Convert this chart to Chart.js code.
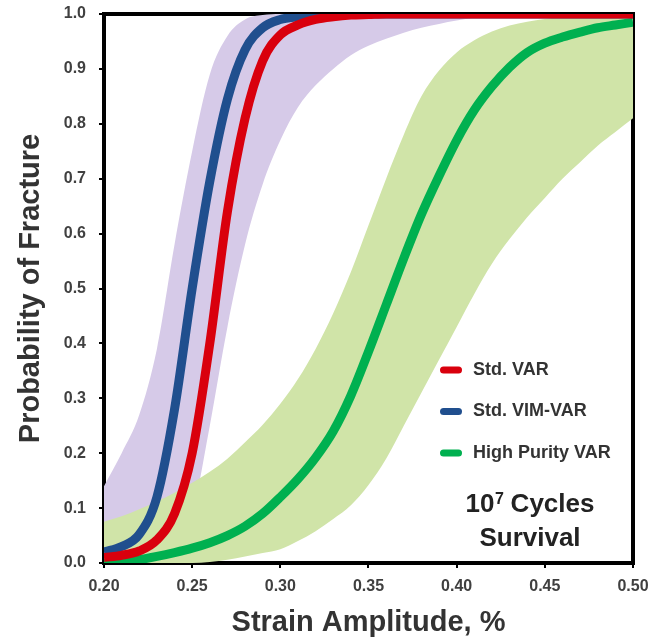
<!DOCTYPE html>
<html>
<head>
<meta charset="utf-8">
<title>Probability of Fracture</title>
<script src="https://cdn.jsdelivr.net/npm/chart.js@4.4.0/dist/chart.umd.min.js"></script>
<style>
  html, body { margin: 0; padding: 0; background: #fff; }
  #wrap { width: 650px; height: 638px; }
</style>
</head>
<body>
<div id="wrap"><canvas id="myChart" width="650" height="638"></canvas></div>
<script>
// Strain amplitude, % (shared x values for every curve)
var strain = [0.20, 0.21, 0.22, 0.23, 0.24, 0.25, 0.26, 0.27, 0.28, 0.29, 0.30,
              0.31, 0.32, 0.33, 0.34, 0.35, 0.36, 0.37, 0.38, 0.39, 0.40,
              0.41, 0.42, 0.43, 0.44, 0.45, 0.46, 0.47, 0.48, 0.49, 0.50];

// Probability of fracture
var stdVar     = [0.010, 0.014, 0.022, 0.042, 0.090, 0.200, 0.400, 0.640, 0.810, 0.915, 0.962,
                  0.980, 0.990, 0.995, 0.998, 0.999, 1.000, 1.000, 1.000, 1.000, 1.000,
                  1.000, 1.000, 1.000, 1.000, 1.000, 1.000, 1.000, 1.000, 1.000, 1.000];
var stdVimVar  = [0.020, 0.030, 0.052, 0.120, 0.280, 0.500, 0.695, 0.845, 0.935, 0.975, 0.990,
                  0.995, 0.998, 0.999, 1.000, 1.000, 1.000, 1.000, 1.000, 1.000, 1.000,
                  1.000, 1.000, 1.000, 1.000, 1.000, 1.000, 1.000, 1.000, 1.000, 1.000];
var highPurity = [0.000, 0.002, 0.006, 0.012, 0.019, 0.027, 0.037, 0.050, 0.067, 0.090, 0.120,
                  0.153, 0.192, 0.240, 0.305, 0.385, 0.470, 0.555, 0.635, 0.705, 0.770,
                  0.825, 0.868, 0.903, 0.930, 0.947, 0.958, 0.967, 0.975, 0.980, 0.985];

// confidence bands
var hpUpper  = [0.075, 0.085, 0.098, 0.112, 0.128, 0.146, 0.166, 0.190, 0.220, 0.252, 0.290,
                0.335, 0.390, 0.455, 0.530, 0.615, 0.700, 0.780, 0.850, 0.897, 0.930,
                0.952, 0.968, 0.979, 0.986, 0.991, 0.995, 0.998, 0.999, 1.000, 1.000];
var hpLower  = [0.000, 0.000, 0.000, 0.000, 0.000, 0.000, 0.002, 0.006, 0.012, 0.018, 0.025,
                0.040, 0.058, 0.080, 0.105, 0.142, 0.190, 0.250, 0.310, 0.370, 0.430,
                0.490, 0.545, 0.590, 0.630, 0.665, 0.700, 0.730, 0.760, 0.785, 0.810];
var stdUpper = [0.140, 0.200, 0.270, 0.390, 0.580, 0.750, 0.890, 0.960, 0.990, 0.998, 1.000,
                1.000, 1.000, 1.000, 1.000, 1.000, 1.000, 1.000, 1.000, 1.000, 1.000,
                1.000, 1.000, 1.000, 1.000, 1.000, 1.000, 1.000, 1.000, 1.000, 1.000];
var stdLower = [0.000, 0.000, 0.005, 0.015, 0.040, 0.090, 0.250, 0.430, 0.580, 0.690, 0.770,
                0.830, 0.870, 0.900, 0.925, 0.942, 0.955, 0.966, 0.975, 0.982, 0.988,
                0.993, 0.997, 0.999, 1.000, 1.000, 1.000, 1.000, 1.000, 1.000, 1.000];

// axis ticks
var xTicks = [0.20, 0.25, 0.30, 0.35, 0.40, 0.45, 0.50];
var xTickLabels = ['0.20', '0.25', '0.30', '0.35', '0.40', '0.45', '0.50'];
var yTicks = [0.0, 0.1, 0.2, 0.3, 0.4, 0.5, 0.6, 0.7, 0.8, 0.9, 1.0];
var yTickLabels = ['0.0', '0.1', '0.2', '0.3', '0.4', '0.5', '0.6', '0.7', '0.8', '0.9', '1.0'];

var FONT = "'Liberation Sans', Arial, sans-serif";

function pts(ys) {
  return strain.map(function (x, i) { return { x: x, y: ys[i] }; });
}

// black box round the plot area (drawn before the data, like the original)
var framePlugin = {
  id: 'frame',
  beforeDatasetsDraw: function (chart) {
    var a = chart.chartArea, ctx = chart.ctx;
    ctx.save();
    ctx.strokeStyle = '#000';
    ctx.lineWidth = 4;
    ctx.strokeRect(a.left, a.top, a.right - a.left, a.bottom - a.top);
    ctx.restore();
  }
};

// legend + note inside the plot
var insideLegend = {
  id: 'insideLegend',
  afterDraw: function (chart) {
    var a = chart.chartArea, ctx = chart.ctx;
    ctx.save();
    [0, 1, 2].forEach(function (i, n) {
      var ds = chart.data.datasets[i];
      var y = a.top + 356 + n * 41.5;
      ctx.beginPath();
      ctx.strokeStyle = ds.borderColor;
      ctx.lineWidth = 7;
      ctx.lineCap = 'round';
      ctx.moveTo(a.left + 339.5, y);
      ctx.lineTo(a.left + 354.5, y);
      ctx.stroke();
      ctx.fillStyle = '#333';
      ctx.font = 'bold 18px ' + FONT;
      ctx.textBaseline = 'middle';
      ctx.textAlign = 'left';
      ctx.fillText(ds.label, a.left + 369, y);
    });

    // "10^7 Cycles" / "Survival"
    var cx = a.left + 426;
    ctx.fillStyle = '#222';
    ctx.textBaseline = 'alphabetic';
    ctx.textAlign = 'left';
    ctx.font = 'bold 26px ' + FONT;
    var w1 = ctx.measureText('10').width;
    var w3 = ctx.measureText(' Cycles').width;
    ctx.font = 'bold 16px ' + FONT;
    var w2 = ctx.measureText('7').width;
    var x0 = cx - (w1 + w2 + w3) / 2;
    var base1 = a.top + 498;
    ctx.font = 'bold 26px ' + FONT;
    ctx.fillText('10', x0, base1);
    ctx.font = 'bold 16px ' + FONT;
    ctx.fillText('7', x0 + w1 + 0.5, base1 - 8);
    ctx.font = 'bold 26px ' + FONT;
    ctx.fillText(' Cycles', x0 + w1 + w2, base1);
    ctx.textAlign = 'center';
    ctx.fillText('Survival', cx, a.top + 532);
    ctx.restore();
  }
};

var lineDs = function (label, ys, color, order) {
  return {
    label: label,
    data: pts(ys),
    borderColor: color,
    backgroundColor: color,
    borderWidth: 9,
    fill: false,
    clip: 0,
    order: order
  };
};

var bandDs = function (label, ys, color, fill, order) {
  return {
    label: label,
    data: pts(ys),
    borderColor: 'rgba(0,0,0,0)',
    backgroundColor: color,
    borderWidth: 0,
    fill: fill,
    clip: 0,
    order: order
  };
};

var data = {
  datasets: [
    lineDs('Std. VAR', stdVar, '#D9000D', 1),
    lineDs('Std. VIM-VAR', stdVimVar, '#204F8E', 2),
    lineDs('High Purity VAR', highPurity, '#00B050', 3),
    bandDs('High Purity upper', hpUpper, '#D0E4A8', '+1', 4),
    bandDs('High Purity lower', hpLower, '#D0E4A8', false, 5),
    bandDs('Std upper', stdUpper, '#D6CAE8', '+1', 6),
    bandDs('Std lower', stdLower, '#D6CAE8', false, 7)
  ]
};

// keep the plot area exactly where the original has it
function noPad(s) {
  s.paddingTop = 0;
  s.paddingBottom = 0;
  s.paddingLeft = 0;
  s.paddingRight = 0;
}

var config = {
  type: 'line',
  data: data,
  plugins: [framePlugin, insideLegend],
  options: {
    responsive: false,
    animation: false,
    events: [],
    layout: { padding: { top: 14, right: 17, left: 0, bottom: 0 } },
    elements: {
      point: { radius: 0, hoverRadius: 0 },
      line: { cubicInterpolationMode: 'monotone' }
    },
    plugins: {
      legend: { display: false },
      tooltip: { enabled: false }
    },
    scales: {
      x: {
        type: 'linear',
        min: 0.2,
        max: 0.5,
        afterFit: function (s) { s.height = 75; noPad(s); },
        afterBuildTicks: function (s) {
          s.ticks = xTicks.map(function (v) { return { value: v }; });
        },
        ticks: {
          color: '#404040',
          padding: 9,
          font: { family: FONT, size: 16, weight: 'bold' },
          callback: function (v, i) { return xTickLabels[i]; }
        },
        grid: { drawOnChartArea: false, drawTicks: true, tickLength: 5, color: '#000', lineWidth: 2 },
        border: { display: false },
        title: {
          display: true,
          text: 'Strain Amplitude, %',
          color: '#333',
          padding: { top: 0, bottom: 1 },
          font: { family: FONT, size: 29, weight: 'bold', lineHeight: 1 }
        }
      },
      y: {
        type: 'linear',
        min: 0,
        max: 1,
        afterFit: function (s) { s.width = 104; noPad(s); },
        afterBuildTicks: function (s) {
          s.ticks = yTicks.map(function (v) { return { value: v }; });
        },
        ticks: {
          color: '#404040',
          padding: 13,
          font: { family: FONT, size: 16, weight: 'bold' },
          callback: function (v, i) { return yTickLabels[i]; }
        },
        grid: { drawOnChartArea: false, drawTicks: true, tickLength: 5, color: '#000', lineWidth: 2 },
        border: { display: false },
        title: {
          display: true,
          text: 'Probability of Fracture',
          color: '#333',
          padding: { top: 16, bottom: 0 },
          font: { family: FONT, size: 29, weight: 'bold', lineHeight: 1 }
        }
      }
    }
  }
};

var myChart = new Chart(document.getElementById('myChart'), config);
</script>
</body>
</html>
